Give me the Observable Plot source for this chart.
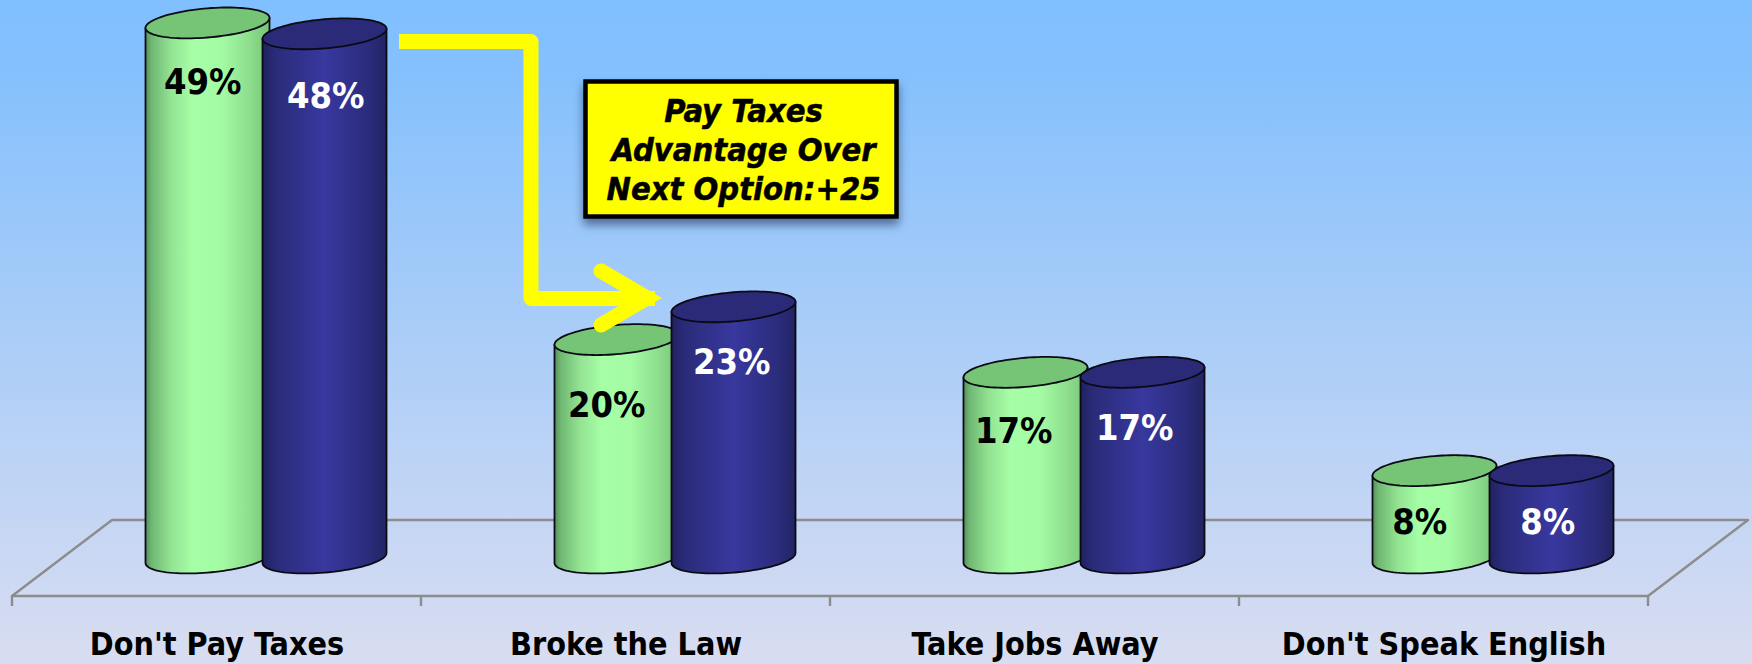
<!DOCTYPE html>
<html>
<head>
<meta charset="utf-8">
<script src="https://cdn.jsdelivr.net/npm/d3@7"></script>
<script src="https://cdn.jsdelivr.net/npm/@observablehq/plot@0.6"></script>
<style>
  html, body { margin: 0; padding: 0; width: 1752px; height: 664px; overflow: hidden;
    background: linear-gradient(to bottom, #80bfff 0%, #84c0fd 10%, #d9ddf1 100%); }
  svg { display: block; background: transparent !important; }
  svg text { font-family: "DejaVu Sans", sans-serif; font-stretch: condensed; font-weight: bold; }
  g[aria-label="value label"] text { font-stretch: normal; }
</style>
</head>
<body>
<div id="chart"></div>
<script>
// ---- data ----
const categories = ["Don't Pay Taxes", "Broke the Law", "Take Jobs Away", "Don't Speak English"];
const greenValues = [49, 20, 17, 8];
const blueValues = [48, 23, 17, 8];
const calloutText = "Pay Taxes\nAdvantage Over\nNext Option:+25";

// ---- layout (not data) ----
const W = 1752, H = 664;
const cylW = 124, tilt = 5, ryBody = 14.6;
const greenOffset = 133.5, blueOffset = 250.5;
const greenLabelDx = [57, 52, 50, 47], greenLabelDy = [66, 72, 65, 58];
const blueLabelDx = [63, 60, 54, 58], blueLabelDy = [69, 62, 62, 58];

const greenRows = categories.map((category, i) => ({category, value: greenValues[i]}));
const blueRows = categories.map((category, i) => ({category, value: blueValues[i]}));

function svgEl(name) { return d3.create("svg:" + name); }

function gradient(id, stops) {
  const g = svgEl("linearGradient").attr("id", id).attr("x1", 0).attr("x2", 1).attr("y1", 0).attr("y2", 0);
  stops.forEach(([o, c]) => g.append("stop").attr("offset", o).attr("stop-color", c));
  return g.node();
}

function cylinderMark(rows, offset, gradId, topFill) {
  return Plot.barY(rows, {
    x: "category", y: "value",
    render(index, scales) {
      const g = svgEl("g");
      const y0 = scales.y(0);
      for (const i of index) {
        const d = rows[i];
        const xl = scales.x(d.category) + offset;
        const cx = xl + cylW / 2;
        const yTop = scales.y(d.value);
        const pt = (cy, t) => [cx + (cylW / 2) * Math.cos(t), cy - tilt * Math.cos(t) + ryBody * Math.sin(t)];
        const bottomCy = y0 - tilt, topCy = yTop - tilt;
        const lower = d3.range(0, 49).map(k => pt(bottomCy, Math.PI - Math.PI * k / 48));
        const body = [[xl, yTop], ...lower, [xl + cylW, yTop - 2 * tilt]];
        const ell = d3.range(0, 96).map(k => pt(topCy, 2 * Math.PI * k / 96));
        const toPath = a => "M" + a.map(p => p[0].toFixed(2) + "," + p[1].toFixed(2)).join("L") + "Z";
        g.append("path").attr("d", toPath(body)).attr("fill", `url(#${gradId})`)
          .attr("stroke", "#0a0a14").attr("stroke-width", 1.8).attr("stroke-linejoin", "round");
        g.append("path").attr("d", toPath(ell)).attr("fill", topFill)
          .attr("stroke", "#0a0a14").attr("stroke-width", 1.8);
      }
      return g.node();
    }
  });
}

// floor and ticks, placed on the band edges of the x scale
function floorMark() {
  return Plot.ruleY([0], {
    render(index, scales) {
      const g = svgEl("g").attr("fill", "none").attr("stroke", "#8c8c8c").attr("stroke-width", 2.4);
      const step = scales.x.bandwidth();
      const edges = [...categories.map(c => scales.x(c)), scales.x(categories[3]) + step];
      const front = 596, back = 520, depth = 100, tick = 10;
      const l = edges[0], r = edges[4];
      g.append("path").attr("stroke-linejoin", "round")
        .attr("d", `M${l},${front}L${r},${front}L${r + depth},${back}L${l + depth},${back}Z`);
      edges.forEach(e => g.append("line").attr("x1", e).attr("x2", e).attr("y1", front).attr("y2", front + tick));
      return g.node();
    }
  });
}

function gradientDefs() {
  return Plot.ruleY([0], {
    render() {
      const g = svgEl("g");
      g.append("defs").node().append(
        gradient("gGreen", [[0, "#568f5a"], [0.05, "#6fb873"], [0.2, "#92e292"], [0.38, "#a6ffa6"], [0.62, "#a3fba3"], [0.85, "#8cdc8c"], [1, "#76c278"]]),
        gradient("gBlue", [[0, "#20215f"], [0.1, "#2a2b78"], [0.5, "#38389f"], [0.85, "#2b2c7c"], [1, "#222463"]])
      );
      return g.node();
    }
  });
}

// yellow connector and callout box
function arrowMark() {
  return Plot.ruleY([0], {
    render() {
      const g = svgEl("g");
      const a = g.append("g").attr("fill", "none").attr("stroke", "#ffff00").attr("stroke-width", 15);
      a.append("path").attr("stroke-linejoin", "round").attr("d", "M399,41.5H531V298.5H655");
      a.append("path").attr("stroke-linecap", "round").attr("stroke-linejoin", "miter").attr("d", "M601,271L647,298L601,325");
      g.append("rect").attr("x", 585.5).attr("y", 81.5).attr("width", 311).attr("height", 135)
        .attr("fill", "#ffff00").attr("stroke", "#000").attr("stroke-width", 4.5)
        .style("filter", "drop-shadow(0 6px 5px rgba(20,30,70,.55))");
      return g.node();
    }
  });
}

const valueText = r => r.value + "%";

const plot = Plot.plot({
  width: W, height: H,
  marginTop: 0, marginRight: 0, marginLeft: 0, marginBottom: 68,
  x: {type: "band", domain: categories, range: [11, 1649], padding: 0, axis: null},
  y: {type: "linear", domain: [0, 50], range: [563, 17], axis: null},
  marks: [
    gradientDefs(),
    floorMark(),
    Plot.axisX(categories, {
      anchor: "bottom", tickSize: 0, tickPadding: 36, fontSize: 32, fontWeight: "bold",
      fill: "#000", stroke: "#000", strokeWidth: 0.45, label: null, lineAnchor: "top"
    }),
    cylinderMark(greenRows, greenOffset, "gGreen", "#76c476"),
    cylinderMark(blueRows, blueOffset, "gBlue", "#2a2a78"),
    arrowMark(),
    ...greenRows.map((d, i) => Plot.text([d], {
      x: "category", y: "value", text: valueText, fill: "#000", fontSize: 36, fontWeight: "bold",
      ariaLabel: "value label", lineAnchor: "bottom", dx: greenOffset + greenLabelDx[i] - 204.75, dy: greenLabelDy[i]
    })),
    ...blueRows.map((d, i) => Plot.text([d], {
      x: "category", y: "value", text: valueText, fill: "#fff", fontSize: 36, fontWeight: "bold",
      ariaLabel: "value label", lineAnchor: "bottom", dx: blueOffset + blueLabelDx[i] - 204.75, dy: blueLabelDy[i]
    })),
    Plot.text([calloutText], {
      frameAnchor: "top-left", text: d => d, fill: "#000", stroke: "#000", strokeWidth: 0.5, fontSize: 32.4, fontWeight: "bold",
      fontStyle: "italic", textAnchor: "middle", lineAnchor: "top", lineHeight: 1.2,
      dx: 743, dy: 94
    })
  ]
});
document.getElementById("chart").append(plot);
</script>
</body>
</html>
